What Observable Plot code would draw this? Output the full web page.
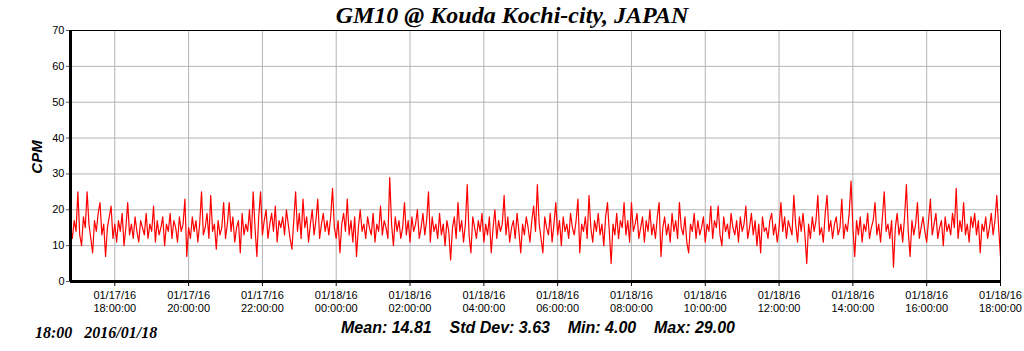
<!DOCTYPE html>
<html>
<head>
<meta charset="utf-8">
<script src="https://cdn.jsdelivr.net/npm/d3@7"></script>
<script src="https://cdn.jsdelivr.net/npm/@observablehq/plot@0.6"></script>
<style>
  html, body { margin: 0; padding: 0; background: white; }
  #chart { position: relative; width: 1024px; height: 351px; }
</style>
</head>
<body>
<div id="chart"></div>
<script>
// ---- data (3-minute samples from 2016-01-17 16:48 to 2016-01-18 18:00) ----
const titleText = "GM10 @ Kouda Kochi-city, JAPAN";
const yLabel = "CPM";
const statsText = "Mean: 14.81    Std Dev: 3.63    Min: 4.00    Max: 29.00";
const stampText = "18:00   2016/01/18";
const startTime = "2016-01-17T16:48:00Z";
const endTime = "2016-01-18T18:00:00Z";
const stepMinutes = 3;
const yTicks = [0, 10, 20, 30, 40, 50, 60, 70];
const xTickTimes = [
  "2016-01-17T18:00:00Z", "2016-01-17T20:00:00Z", "2016-01-17T22:00:00Z",
  "2016-01-18T00:00:00Z", "2016-01-18T02:00:00Z", "2016-01-18T04:00:00Z",
  "2016-01-18T06:00:00Z", "2016-01-18T08:00:00Z", "2016-01-18T10:00:00Z",
  "2016-01-18T12:00:00Z", "2016-01-18T14:00:00Z", "2016-01-18T16:00:00Z",
  "2016-01-18T18:00:00Z"
];
const cpm = [
  15,12,17,14,25,13,10,18,15,25,16,12,8,17,14,19,22,13,16,7,
  15,18,21,12,16,11,17,14,19,10,15,22,13,16,12,18,14,11,17,15,
  13,19,12,16,14,21,11,17,13,15,18,10,16,14,19,12,17,15,11,18,
  14,16,23,7,15,12,18,14,17,11,16,25,13,15,19,12,24,14,16,9,
  17,13,15,22,12,16,22,14,18,11,15,17,8,19,13,16,14,20,12,25,
  15,7,18,25,13,17,20,12,16,19,14,21,11,17,15,18,13,20,16,12,
  9,17,25,14,19,12,23,15,18,11,16,20,13,17,23,12,16,19,14,17,
  13,18,26,15,12,17,8,16,19,14,23,13,17,11,18,7,15,20,14,16,
  12,18,15,13,19,11,16,14,21,13,17,15,12,29,16,10,18,14,17,12,
  15,22,13,17,11,18,14,16,20,12,15,19,13,17,25,11,18,14,16,12,
  19,13,16,10,17,14,6,15,18,12,22,14,17,11,16,27,13,8,18,15,
  12,17,14,19,11,16,13,18,8,15,20,12,17,14,16,24,13,18,11,15,
  17,12,19,14,8,16,13,18,15,11,17,21,14,27,16,12,8,18,15,13,
  19,11,16,22,13,17,10,18,14,16,12,19,15,13,17,23,8,16,14,18,
  12,24,15,11,17,14,19,13,16,10,18,22,14,5,16,13,19,12,17,15,
  22,13,17,11,22,14,16,19,12,15,18,11,17,14,20,13,16,12,18,22,
  7,15,18,13,16,11,19,14,17,12,22,15,13,18,11,8,16,14,19,12,
  17,13,15,18,11,16,14,21,12,17,15,21,13,10,18,14,16,12,19,15,
  13,17,11,18,14,16,21,12,15,19,13,17,10,16,8,18,14,15,12,17,
  19,13,16,11,15,22,14,18,12,17,15,13,24,16,11,18,14,19,13,5,
  16,12,18,14,17,24,13,15,11,19,24,14,17,12,16,18,13,15,23,12,
  16,14,19,28,15,7,17,13,18,11,16,14,19,12,15,17,22,13,16,11,
  18,25,14,16,12,17,4,15,19,13,16,11,18,27,14,7,17,13,16,22,
  12,15,18,14,11,17,23,13,16,19,12,15,17,10,18,14,16,13,19,15,
  26,12,17,14,22,13,16,11,18,15,19,13,17,8,16,14,18,12,15,19,
  13,17,24,15,7
];

// ---- build table ----
const t0 = new Date(startTime);
const t1 = new Date(endTime);
const data = cpm.map((v, i) => ({ t: new Date(+t0 + i * stepMinutes * 60000), v }));
const xTicks = xTickTimes.map(s => new Date(s));
const fmtDate = d3.utcFormat("%m/%d/%y");
const fmtTime = d3.utcFormat("%H:%M:%S");

const gridColor = "#b4b4b4";

const plot = Plot.plot({
  width: 1024,
  height: 351,
  marginLeft: 70,
  marginRight: 24,
  marginTop: 30,
  marginBottom: 70,
  style: { fontFamily: "Arial, 'Liberation Sans', sans-serif", fontSize: "11px", background: "white", color: "black", overflow: "visible" },
  x: { type: "utc", domain: [t0, t1], label: null },
  y: { domain: [0, 70], label: null },
  marks: [
    Plot.gridY(yTicks, { stroke: gridColor, strokeOpacity: 1 }),
    Plot.gridX(xTicks, { stroke: gridColor, strokeOpacity: 1 }),
    Plot.line(data, { x: "t", y: "v", stroke: "#ff0000", strokeWidth: 1.2 }),
    Plot.frame({ stroke: "black" }),
    Plot.axisY(yTicks, { tickSize: 4, tickPadding: 2, label: null, stroke: "#555", fill: "black" }),
    Plot.axisX(xTicks, {
      tickSize: 5, tickPadding: 3, label: null, lineHeight: 1.2, stroke: "black", fill: "black",
      tickFormat: d => fmtDate(d) + "\n" + fmtTime(d)
    }),
    Plot.ruleX([t0], { stroke: "black", strokeWidth: 3 }),
    Plot.ruleY([0], { stroke: "black", strokeWidth: 3 })
  ]
});

document.getElementById("chart").appendChild(plot);

// ---- titles and annotations as real SVG text ----
const svg = d3.select(plot);
svg.append("text")
  .attr("x", 512).attr("y", 23)
  .attr("text-anchor", "middle")
  .style("font-family", "'Liberation Serif', 'Times New Roman', serif")
  .style("font-style", "italic").style("font-weight", "bold")
  .style("font-size", "24px").attr("fill", "black")
  .text(titleText);

svg.append("text")
  .attr("transform", "translate(42,157) rotate(-90)")
  .attr("text-anchor", "middle")
  .style("font-family", "Arial, 'Liberation Sans', sans-serif")
  .style("font-style", "italic").style("font-weight", "bold")
  .style("font-size", "15px").attr("fill", "black")
  .text(yLabel);

svg.append("text")
  .attr("x", 538).attr("y", 333)
  .attr("text-anchor", "middle")
  .attr("xml:space", "preserve")
  .style("white-space", "pre")
  .style("font-family", "Arial, 'Liberation Sans', sans-serif")
  .style("font-style", "italic").style("font-weight", "bold")
  .style("font-size", "16px").attr("fill", "black")
  .text(statsText);

svg.append("text")
  .attr("x", 35).attr("y", 338)
  .attr("text-anchor", "start")
  .attr("xml:space", "preserve")
  .style("white-space", "pre")
  .style("font-family", "'Liberation Serif', 'Times New Roman', serif")
  .style("font-style", "italic").style("font-weight", "bold")
  .style("font-size", "16px").attr("fill", "black")
  .text(stampText);
</script>
</body>
</html>
